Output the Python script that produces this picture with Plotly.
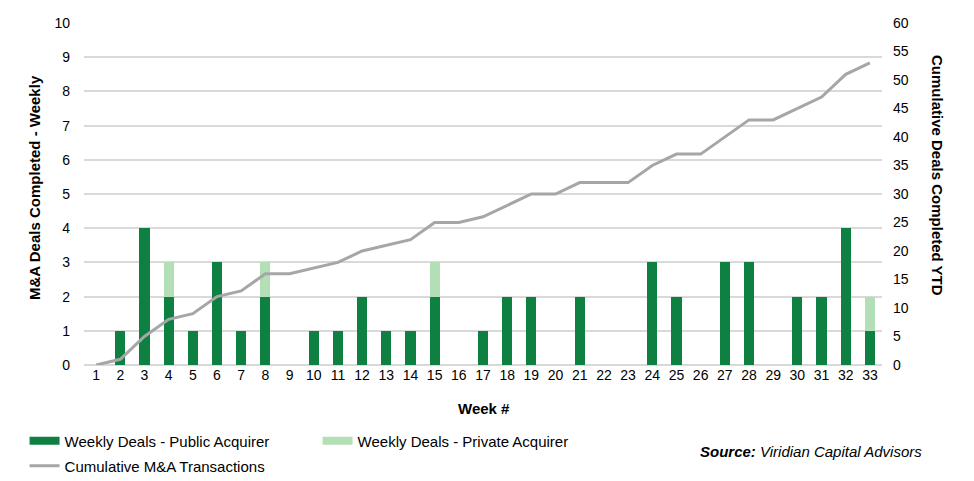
import plotly.graph_objects as go

weeks = list(range(1, 34))
public_acq = [0, 1, 4, 2, 1, 3, 1, 2, 0, 1, 1, 2, 1, 1, 2, 0, 1, 2, 2, 0, 2, 0, 0, 3, 2, 0, 3, 3, 0, 2, 2, 4, 1]
private_acq = [0, 0, 0, 1, 0, 0, 0, 1, 0, 0, 0, 0, 0, 0, 1, 0, 0, 0, 0, 0, 0, 0, 0, 0, 0, 0, 0, 0, 0, 0, 0, 0, 1]
cumulative = [0, 1, 5, 8, 9, 12, 13, 16, 16, 17, 18, 20, 21, 22, 25, 25, 26, 28, 30, 30, 32, 32, 32, 35, 37, 37, 40, 43, 43, 45, 47, 51, 53]

DARK = "#0E8142"
LIGHT = "#B2DFB6"
GRAY = "#A6A6A6"
FONT = "Liberation Sans, Arial, sans-serif"

W, H = 974, 481
OFF = 8  # page body margin offset
# plot area in screen pixels: x 84..882, y 23..365
ML, MT = 84 - OFF, 23 - OFF
MR, MB = W - (882 - OFF), H - (365 - OFF)
PW, PH = W - ML - MR, H - MT - MB

def px_x(px):
    return (px - OFF - ML) / PW

def px_y(py):
    return (H - MB - (py - OFF)) / PH

fig = go.Figure()
fig.add_trace(go.Bar(x=weeks, y=public_acq, name="Weekly Deals - Public Acquirer",
                     marker=dict(color=DARK, line=dict(width=0)), showlegend=False))
fig.add_trace(go.Bar(x=weeks, y=private_acq, name="Weekly Deals - Private Acquirer",
                     marker=dict(color=LIGHT, line=dict(width=0)), showlegend=False))
fig.add_trace(go.Scatter(x=weeks, y=cumulative, name="Cumulative M&A Transactions", yaxis="y2",
                         mode="lines", line=dict(color=GRAY, width=3), legend="legend2"))
# legend entries for the bar series (wide swatches like the original)
fig.add_trace(go.Scatter(x=[None], y=[None], name="Weekly Deals - Public Acquirer", mode="lines",
                         line=dict(color=DARK, width=8), legend="legend", hoverinfo="skip"))
fig.add_trace(go.Scatter(x=[None], y=[None], name="Weekly Deals - Private Acquirer", mode="lines",
                         line=dict(color=LIGHT, width=8), legend="legend", hoverinfo="skip"))

fig.update_layout(
    width=W, height=H,
    margin=dict(l=ML, r=MR, t=MT, b=MB, autoexpand=False),
    paper_bgcolor="white", plot_bgcolor="white",
    font=dict(family=FONT, size=14, color="#000000"),
    barmode="stack", bargap=0.58,
    xaxis=dict(range=[0.5, 33.5], tickmode="array", tickvals=weeks, ticktext=[str(w) for w in weeks],
               showgrid=False, zeroline=False, showline=False, ticks="", automargin=False,
               tickfont=dict(size=14)),
    yaxis=dict(range=[0, 10], dtick=1, showgrid=True, gridcolor="#D9D9D9", gridwidth=1.5,
               zeroline=True, zerolinecolor="#D9D9D9", zerolinewidth=1.5, showline=False, ticks="",
               ticklabelstandoff=13, tickfont=dict(size=14), automargin=False),
    yaxis2=dict(range=[0, 60], dtick=5, overlaying="y", side="right", showgrid=False, automargin=False,
                zeroline=False, showline=False, ticks="", ticklabelstandoff=10, tickfont=dict(size=14)),
    legend=dict(orientation="h", xref="container", yref="container", x=0.017, y=0.1,
                xanchor="left", yanchor="middle", font=dict(size=15), entrywidth=248,
                entrywidthmode="pixels", bgcolor="rgba(0,0,0,0)", traceorder="normal"),
    legend2=dict(orientation="h", xref="container", yref="container", x=0.017, y=0.048,
                 xanchor="left", yanchor="middle", font=dict(size=15), bgcolor="rgba(0,0,0,0)"),
    annotations=[
        dict(text="<b>M&A Deals Completed - Weekly</b>", textangle=-90, xref="paper", yref="paper",
             x=px_x(35), y=px_y(188), xanchor="center", yanchor="middle", showarrow=False, font=dict(size=15)),
        dict(text="<b>Cumulative Deals Completed YTD</b>", textangle=90, xref="paper", yref="paper",
             x=px_x(938), y=px_y(175), xanchor="center", yanchor="middle", showarrow=False, font=dict(size=15)),
        dict(text="<b>Week #</b>", xref="paper", yref="paper",
             x=px_x(484), y=px_y(408), xanchor="center", yanchor="middle", showarrow=False, font=dict(size=15)),
        dict(text="<b><i>Source:</i></b><i> Viridian Capital Advisors</i>", xref="paper", yref="paper",
             x=px_x(924), y=px_y(451), xanchor="right", yanchor="middle", showarrow=False,
             font=dict(size=15)),
    ],
)

fig.write_html("out.html")
